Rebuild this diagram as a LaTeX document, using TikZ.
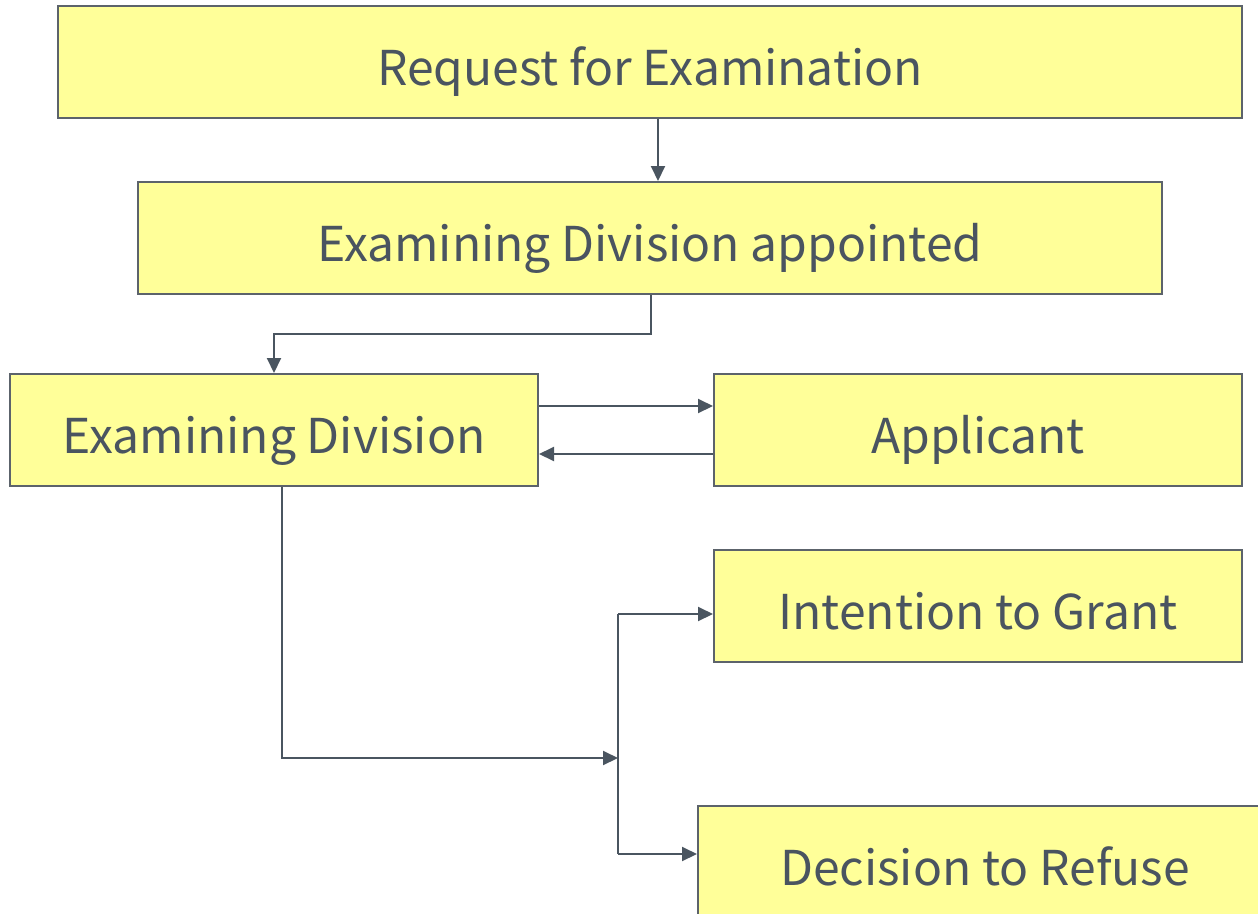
\documentclass[tikz,border=0pt]{standalone}
\usepackage{fontspec}
\setmainfont{Noto Sans CJK JP}
\usetikzlibrary{arrows.meta,calc}
\definecolor{boxfill}{HTML}{FFFF99}
\definecolor{boxline}{HTML}{5C636B}
\definecolor{txt}{HTML}{4A5460}
\definecolor{conn}{HTML}{4A5560}
\tikzset{
  box/.style={draw=boxline, line width=2pt, fill=boxfill, inner sep=0pt,
    minimum height=112pt, text=txt, text height=50pt, text depth=3pt,
    font=\fontsize{48}{56}\selectfont},
  arr/.style={draw=conn, line width=2pt, -{Triangle[length=15pt,width=14pt]}},
  ln/.style={draw=conn, line width=2pt}
}
\begin{document}
\begin{tikzpicture}[x=1pt,y=-1pt]
\useasboundingbox (0,0) rectangle (1258,913);
\clip (0,0) rectangle (1258,913);
\node[box, minimum width=1184pt] (req) at (650,62) {Request for Examination};
\node[box, minimum width=1024pt] (eda) at (650,238) {Examining Division appointed};
\node[box, minimum width=528pt] (ed) at (274,430) {Examining Division};
\node[box, minimum width=528pt] (app) at (978,430) {Applicant};
\node[box, minimum width=528pt] (itg) at (978,606) {Intention to Grant};
\node[box, minimum width=574pt] (dtr) at (985,862) {Decision to Refuse};
\coordinate (j) at (618,758);
\coordinate (jt) at (618,614);
\coordinate (jb) at (618,854);
\draw[arr] ([xshift=8pt]req.south) -- ([xshift=8pt]eda.north);
\draw[arr] ([xshift=1pt]eda.south) -- ++(0,39) -| (ed.north);
\draw[arr] ([yshift=24pt]ed.east) -- ([yshift=24pt]app.west);
\draw[arr] ([yshift=-24pt]app.west) -- ([yshift=-24pt]ed.east);
\draw[arr] ([xshift=8pt]ed.south) |- (j);
\draw[ln] (jt) -- (jb);
\draw[arr] (jt) -- (jt -| itg.west);
\draw[arr] (jb) -- (jb -| dtr.west);
\end{tikzpicture}
\end{document}
